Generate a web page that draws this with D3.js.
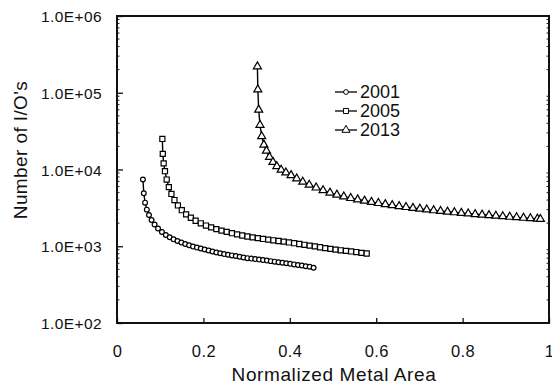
<!DOCTYPE html>
<html>
<head>
<meta charset="utf-8">
<script src="https://cdn.jsdelivr.net/npm/d3@7"></script>
<style>
  html, body { margin: 0; padding: 0; background: #fff; overflow: hidden; }
  svg { display: block; }
  svg text { font-family: "Liberation Sans", Arial, sans-serif; fill: #111; }
</style>
</head>
<body>
<div id="chart"></div>
<script>
// series values
const x2001 = [0.060, 0.062, 0.065, 0.069, 0.074, 0.080, 0.087, 0.095, 0.104, 0.113, 0.122, 0.131, 0.140, 0.149, 0.158, 0.167, 0.176, 0.185, 0.194, 0.203, 0.212, 0.221, 0.230, 0.239, 0.248, 0.257, 0.266, 0.275, 0.284, 0.293, 0.302, 0.311, 0.320, 0.329, 0.338, 0.347, 0.356, 0.365, 0.374, 0.383, 0.392, 0.401, 0.410, 0.419, 0.428, 0.437, 0.446, 0.455];
const y2001 = [7400, 4900, 3700, 3000, 2550, 2200, 1920, 1700, 1530, 1400, 1310, 1230, 1170, 1120, 1070, 1030, 990, 960, 935, 905, 880, 855, 830, 810, 790, 775, 760, 745, 730, 715, 700, 690, 680, 670, 660, 650, 640, 630, 620, 610, 600, 590, 580, 570, 560, 550, 540, 525];

const x2005 = [0.105, 0.106, 0.108, 0.111, 0.115, 0.120, 0.126, 0.133, 0.141, 0.150, 0.160, 0.171, 0.182, 0.194, 0.206, 0.218, 0.230, 0.242, 0.254, 0.266, 0.278, 0.290, 0.302, 0.314, 0.326, 0.338, 0.350, 0.362, 0.374, 0.386, 0.398, 0.410, 0.422, 0.434, 0.446, 0.458, 0.470, 0.482, 0.494, 0.506, 0.518, 0.530, 0.542, 0.554, 0.566, 0.578];
const y2005 = [25000, 16000, 12000, 9500, 7400, 5900, 4800, 4000, 3400, 2950, 2600, 2350, 2150, 1990, 1860, 1760, 1670, 1600, 1540, 1480, 1430, 1380, 1340, 1305, 1275, 1245, 1220, 1195, 1170, 1150, 1120, 1095, 1070, 1045, 1020, 995, 970, 945, 925, 905, 885, 870, 855, 840, 820, 805];

const x2013 = [0.325, 0.326, 0.328, 0.331, 0.335, 0.340, 0.346, 0.353, 0.361, 0.370, 0.380, 0.391, 0.403, 0.416, 0.430, 0.445, 0.461, 0.477, 0.493, 0.509, 0.525, 0.541, 0.557, 0.573, 0.589, 0.605, 0.621, 0.637, 0.653, 0.669, 0.685, 0.701, 0.717, 0.733, 0.749, 0.765, 0.781, 0.797, 0.813, 0.829, 0.845, 0.861, 0.877, 0.893, 0.909, 0.925, 0.941, 0.957, 0.973, 0.980];
const y2013 = [220000, 110000, 60000, 38000, 27000, 21000, 17500, 14500, 12500, 11000, 9900, 9100, 8400, 7600, 6900, 6300, 5800, 5350, 4980, 4680, 4430, 4230, 4060, 3910, 3770, 3640, 3520, 3420, 3320, 3230, 3150, 3070, 3000, 2930, 2870, 2810, 2760, 2710, 2660, 2610, 2570, 2530, 2490, 2450, 2410, 2380, 2340, 2310, 2280, 2260];

const seriesNames = ['2001', '2005', '2013'];
const xTicks = [0, 0.2, 0.4, 0.6, 0.8, 1];
const xTickLabels = ['0', '0.2', '0.4', '0.6', '0.8', '1'];
const yTicks = [1e2, 1e3, 1e4, 1e5, 1e6];
const yTickLabels = ['1.0E+02', '1.0E+03', '1.0E+04', '1.0E+05', '1.0E+06'];

const width = 552, height = 389;
const margin = { top: 16, right: 3, bottom: 66, left: 117 };
const innerWidth = width - margin.left - margin.right;
const innerHeight = height - margin.top - margin.bottom;

const svg = d3.select('#chart')
  .append('svg')
  .attr('width', width)
  .attr('height', height)
  .append('g')
  .attr('transform', `translate(${margin.left}, ${margin.top})`);

const x = d3.scaleLinear().domain([0, 1]).range([0, innerWidth]);
const y = d3.scaleLog().domain([1e2, 1e6]).range([innerHeight, 0]);

// minor log ticks on left and right
const minor = [];
[1e2, 1e3, 1e4, 1e5].forEach(d => { for (let k = 2; k <= 9; k++) minor.push(d * k); });
svg.selectAll('.minor-l')
  .data(minor)
  .enter()
  .append('line')
  .attr('x1', 0).attr('x2', 2.5)
  .attr('y1', d => y(d)).attr('y2', d => y(d))
  .attr('stroke', '#222').attr('stroke-width', 1);
svg.selectAll('.minor-r')
  .data(minor)
  .enter()
  .append('line')
  .attr('x1', innerWidth - 2.5).attr('x2', innerWidth)
  .attr('y1', d => y(d)).attr('y2', d => y(d))
  .attr('stroke', '#222').attr('stroke-width', 1);

// x axis
const xAxis = svg.append('g')
  .attr('transform', `translate(0, ${innerHeight})`)
  .call(d3.axisBottom(x).tickValues(xTicks).tickSizeInner(-5).tickSizeOuter(0)
    .tickFormat((d, i) => xTickLabels[i]).tickPadding(22));
xAxis.select('.domain').remove();
xAxis.selectAll('.tick line').attr('stroke', '#111').attr('stroke-width', 1.3);
xAxis.selectAll('text').attr('font-size', 16.5).attr('letter-spacing', 0.4);

// y axis
const yAxis = svg.append('g')
  .call(d3.axisLeft(y).tickValues(yTicks).tickSizeInner(-6).tickSizeOuter(0)
    .tickFormat((d, i) => yTickLabels[i]).tickPadding(15));
yAxis.select('.domain').remove();
yAxis.selectAll('.tick line').attr('stroke', '#111').attr('stroke-width', 1.3);
yAxis.selectAll('text').attr('font-size', 15.5).attr('letter-spacing', 0.4).attr('dy', '0.36em');

// frame
svg.append('rect')
  .attr('x', 0).attr('y', 0)
  .attr('width', innerWidth).attr('height', innerHeight)
  .attr('fill', 'none').attr('stroke', '#111').attr('stroke-width', 2);

// axis titles
svg.append('text')
  .attr('x', 217).attr('y', innerHeight + 58)
  .attr('text-anchor', 'middle').attr('font-size', 19).attr('letter-spacing', 0.6)
  .text('Normalized Metal Area');
svg.append('text')
  .attr('transform', `translate(${20 - margin.left}, ${150 - margin.top}) rotate(-90)`)
  .attr('text-anchor', 'middle').attr('dy', '0.35em').attr('font-size', 19).attr('letter-spacing', 0.4)
  .text("Number of I/O's");

const line = d3.line()
  .x(d => x(d[0]))
  .y(d => y(d[1]));

const data2001 = x2001.map((v, i) => [v, y2001[i]]);
const data2005 = x2005.map((v, i) => [v, y2005[i]]);
const data2013 = x2013.map((v, i) => [v, y2013[i]]);

const symCircle = d3.symbol().type(d3.symbolCircle).size(18);
const symSquare = d3.symbol().type(d3.symbolSquare).size(26);
const symTri = d3.symbol().type(d3.symbolTriangle).size(28);

const all = [[data2001, symCircle], [data2005, symSquare], [data2013, symTri]];
all.forEach(([data, sym]) => {
  svg.append('path')
    .datum(data)
    .attr('fill', 'none')
    .attr('stroke', '#000')
    .attr('stroke-width', 1.4)
    .attr('d', line);
  svg.selectAll(null)
    .data(data)
    .enter()
    .append('path')
    .attr('d', sym)
    .attr('transform', d => `translate(${x(d[0])}, ${y(d[1])})`)
    .attr('fill', '#fff')
    .attr('stroke', '#000')
    .attr('stroke-width', 1.2);
});

// legend
const legend = svg.append('g').attr('transform', `translate(${335 - margin.left}, ${92 - margin.top})`);
[symCircle, symSquare, symTri].forEach((sym, i) => {
  const g = legend.append('g').attr('transform', `translate(0, ${i * 19})`);
  g.append('line').attr('x1', 0).attr('x2', 22).attr('y1', 0).attr('y2', 0)
    .attr('stroke', '#000').attr('stroke-width', 1.3);
  g.append('path').attr('d', sym).attr('transform', 'translate(11, 0)')
    .attr('fill', '#fff').attr('stroke', '#000').attr('stroke-width', 1);
  g.append('text').attr('x', 25).attr('y', 0).attr('dy', '0.36em')
    .attr('font-size', 18).text(seriesNames[i]);
});
</script>
</body>
</html>
